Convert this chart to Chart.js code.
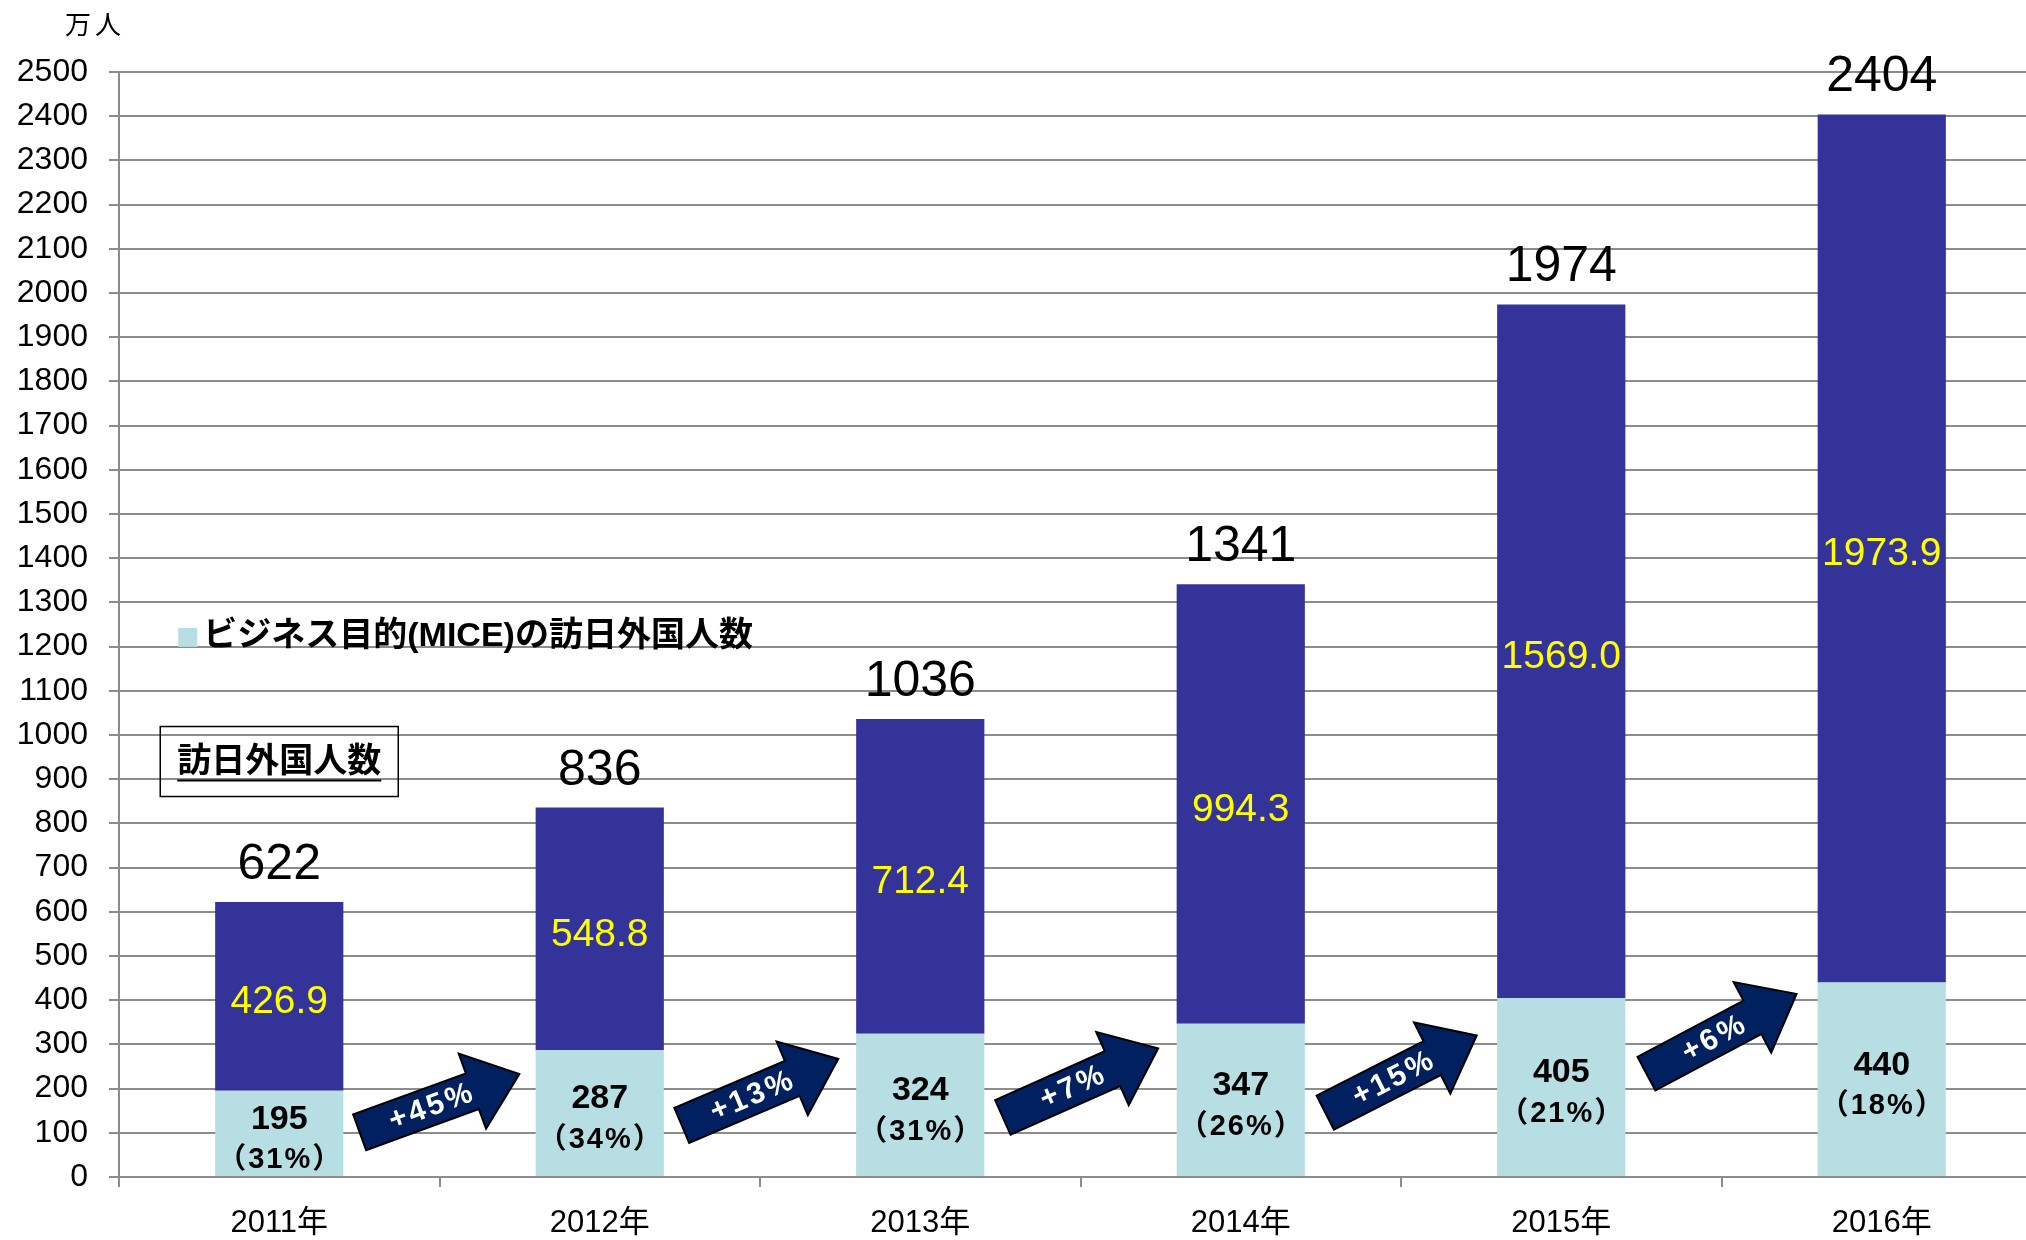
<!DOCTYPE html>
<html lang="ja">
<head>
<meta charset="utf-8">
<title>訪日外国人数</title>
<script src="https://cdn.jsdelivr.net/npm/chart.js@4.4.1/dist/chart.umd.min.js"></script>
<style>
  html, body { margin: 0; padding: 0; background: #fff; overflow: hidden; }
  #wrap { width: 2042px; height: 1240px; }
</style>
</head>
<body>
<div id="wrap"><canvas id="visitorChart" width="2042" height="1240"></canvas></div>
<script>
// ===============================
// Data
// ===============================
const years = ["2011年", "2012年", "2013年", "2014年", "2015年", "2016年"];

// business (MICE) visitors, 万人
const miceValues = [195, 287, 324, 347, 405, 440];
const miceShares = ["31%", "34%", "31%", "26%", "21%", "18%"];

// remaining visitors (bar segment as drawn) and the label printed on it
const otherValues = [426.9, 548.8, 712.4, 994.3, 1569.0, 1964.0];
const otherLabels = ["426.9", "548.8", "712.4", "994.3", "1569.0", "1973.9"];

// total visitors printed above each bar
const totalValues = [622, 836, 1036, 1341, 1974, 2404];

// year-on-year growth of MICE visitors
const growthLabels = ["+45%", "+13%", "+7%", "+15%", "+6%"];

const yMax = 2500;
const yStep = 100;

// ===============================
// Styling / layout
// ===============================
const DARK = "#333399";
const LIGHT = "#b7dfe3";
const GRID = "#8c8c8c";
const NUM_FONT = "'Liberation Sans', Arial, sans-serif";
const JP_FONT = "'Noto Sans CJK JP', 'Liberation Sans', sans-serif";
const MIX_FONT = "'Liberation Sans', 'Noto Sans CJK JP', sans-serif";

// arrows: vertical anchor (axis units) and tilt in degrees
const arrowLevels = [167, 192, 213, 233, 324];
const arrowAngles = [20, 23, 24, 27, 28];

function drawArrow(ctx, cx, cy, angleDeg, text) {
  const L = 170, hl = 50, sw = 19, hw = 40;

  ctx.save();
  ctx.translate(cx, cy);
  ctx.rotate((-angleDeg * Math.PI) / 180);

  ctx.beginPath();
  ctx.moveTo(-L / 2, -sw);
  ctx.lineTo(L / 2 - hl, -sw);
  ctx.lineTo(L / 2 - hl, -hw);
  ctx.lineTo(L / 2, 0);
  ctx.lineTo(L / 2 - hl, hw);
  ctx.lineTo(L / 2 - hl, sw);
  ctx.lineTo(-L / 2, sw);
  ctx.closePath();
  ctx.fillStyle = "#002060";
  ctx.fill();
  ctx.lineWidth = 2;
  ctx.strokeStyle = "#000";
  ctx.stroke();

  ctx.fillStyle = "#fff";
  ctx.font = "bold 30px " + NUM_FONT;
  ctx.textAlign = "center";
  ctx.textBaseline = "middle";
  ctx.letterSpacing = "3px";
  ctx.fillText(text, -8, 1);
  ctx.restore();
}

// labels, arrows, legend and boxed caption
const annotations = {
  id: "annotations",
  afterDatasetsDraw(chart) {
    const ctx = chart.ctx;
    const x = chart.scales.x;
    const y = chart.scales.y;
    const miceMeta = chart.getDatasetMeta(0);
    const otherMeta = chart.getDatasetMeta(1);

    ctx.save();
    ctx.textAlign = "center";

    miceMeta.data.forEach((bar, i) => {
      const mid = (bar.y + bar.base) / 2;
      ctx.fillStyle = "#000";
      ctx.textBaseline = "middle";
      ctx.font = "bold 34px " + NUM_FONT;
      ctx.fillText(String(miceValues[i]), bar.x, mid - 14);
      ctx.font = "bold 29px " + MIX_FONT;
      ctx.letterSpacing = "2px";
      ctx.fillText("（" + miceShares[i] + "）", bar.x + 1, mid + 27);
      ctx.letterSpacing = "0px";
    });

    otherMeta.data.forEach((bar, i) => {
      const mid = (bar.y + bar.base) / 2;
      ctx.fillStyle = "#ffff00";
      ctx.textBaseline = "middle";
      ctx.font = "39px " + NUM_FONT;
      ctx.fillText(otherLabels[i], bar.x, mid + 6);

      ctx.fillStyle = "#000";
      ctx.textBaseline = "alphabetic";
      ctx.font = "50px " + NUM_FONT;
      ctx.fillText(String(totalValues[i]), bar.x, bar.y - 23);
    });

    growthLabels.forEach((g, i) => {
      const cx = (x.getPixelForValue(i) + x.getPixelForValue(i + 1)) / 2;
      const cy = y.getPixelForValue(arrowLevels[i]);
      drawArrow(ctx, cx, cy, arrowAngles[i], g);
    });

    // unit label
    ctx.fillStyle = "#000";
    ctx.textAlign = "left";
    ctx.textBaseline = "middle";
    ctx.font = "26px " + JP_FONT;
    ctx.letterSpacing = "4px";
    ctx.fillText("万人", 65, 24);
    ctx.letterSpacing = "0px";

    // legend for the light segment
    const legX = x.getPixelForValue(0) - 101;
    const legY = y.getPixelForValue(1222);
    ctx.fillStyle = LIGHT;
    ctx.fillRect(legX, legY - 9, 19, 19);
    ctx.fillStyle = "#000";
    ctx.font = "bold 34px " + MIX_FONT;
    ctx.fillText("ビジネス目的(MICE)の訪日外国人数", legX + 25, legY);

    // boxed caption for the whole bar
    const boxCx = x.getPixelForValue(0);
    const boxCy = y.getPixelForValue(940);
    ctx.lineWidth = 1.5;
    ctx.strokeStyle = "#000";
    ctx.strokeRect(boxCx - 119, boxCy - 35, 238, 70);
    ctx.textAlign = "center";
    ctx.font = "bold 34px " + JP_FONT;
    const caption = "訪日外国人数";
    ctx.fillText(caption, boxCx, boxCy - 2);
    const w = ctx.measureText(caption).width;
    ctx.beginPath();
    ctx.moveTo(boxCx - w / 2, boxCy + 19);
    ctx.lineTo(boxCx + w / 2, boxCy + 19);
    ctx.lineWidth = 2;
    ctx.stroke();

    ctx.restore();
  },
};

// ===============================
// Chart
// ===============================
const canvas = document.getElementById("visitorChart");

new Chart(canvas, {
  type: "bar",

  data: {
    labels: years,

    datasets: [
      {
        label: "ビジネス目的(MICE)の訪日外国人数",
        data: miceValues,
        backgroundColor: LIGHT,
        borderWidth: 0,
      },
      {
        label: "訪日外国人数",
        data: otherValues,
        backgroundColor: DARK,
        borderWidth: 0,
      },
    ],
  },

  options: {
    responsive: false,
    animation: false,
    devicePixelRatio: 1,

    barPercentage: 0.4,
    categoryPercentage: 1.0,

    layout: {
      padding: { top: 72, right: 0, bottom: 0, left: 0 },
    },

    plugins: {
      legend: { display: false },
      tooltip: { enabled: false },
    },

    scales: {
      x: {
        stacked: true,
        afterFit: (s) => {
          s.height = 63;
        },
        grid: {
          offset: true,
          drawOnChartArea: false,
          color: GRID,
          lineWidth: 2,
          tickLength: 10,
        },
        border: { color: GRID, width: 2 },
        ticks: {
          color: "#000",
          padding: 18,
          font: { family: MIX_FONT, size: 31 },
        },
      },

      y: {
        stacked: true,
        min: 0,
        max: yMax,
        afterFit: (s) => {
          s.width = 119;
        },
        grid: {
          color: GRID,
          lineWidth: 2,
          tickLength: 10,
        },
        border: { color: GRID, width: 2 },
        ticks: {
          stepSize: yStep,
          color: "#000",
          padding: 21,
          font: { family: NUM_FONT, size: 32 },
          callback: function (value) {
            return String(value);
          },
        },
      },
    },
  },

  plugins: [annotations],
});
</script>
</body>
</html>
